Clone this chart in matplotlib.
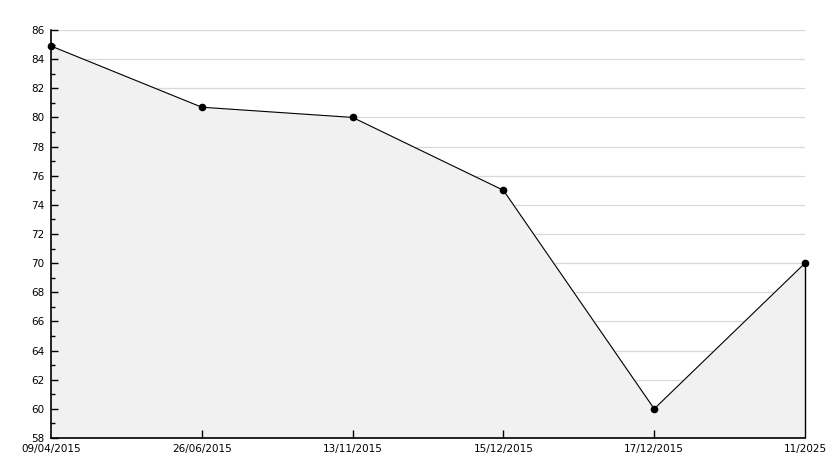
import matplotlib.pyplot as plt
from matplotlib.ticker import MultipleLocator

dates = ['09/04/2015', '26/06/2015', '13/11/2015', '15/12/2015', '17/12/2015', '11/2025']
values = [84.9, 80.7, 80.0, 75.0, 60.0, 70.0]

fig = plt.figure(figsize=(8.34, 4.68), dpi=100)
ax = fig.add_axes([51 / 834, 30 / 468, 754 / 834, 408 / 468])

xs = list(range(len(dates)))
ymin, ymax = 58, 86

# grid drawn by hand so the fill covers it
ax.hlines(range(ymin + 2, ymax + 1, 2), xs[0], xs[-1], color='#d8d8d8', lw=0.9, zorder=0.5)
ax.fill_between(xs, values, ymin, color='#f1f1f1', zorder=1)
ax.plot(xs, values, color='black', lw=0.8, marker='o', ms=4.5, zorder=4, clip_on=False)
ax.vlines(xs[-1], ymin, values[-1], color='black', lw=1, zorder=4, clip_on=False)

ax.set_xlim(0, len(dates) - 1)
ax.set_ylim(ymin, ymax)
ax.set_xticks(xs)
ax.set_xticklabels(dates)
ax.yaxis.set_major_locator(MultipleLocator(2))
ax.yaxis.set_minor_locator(MultipleLocator(1))
ax.set_axisbelow(False)

for s in ['top', 'right']:
	ax.spines[s].set_visible(False)
for s in ['left', 'bottom']:
	ax.spines[s].set_linewidth(1.2)

ax.tick_params(axis='y', which='major', direction='in', length=5, width=1, labelsize=7.5, pad=5)
ax.tick_params(axis='y', which='minor', direction='in', length=3, width=1)
ax.tick_params(axis='x', direction='in', length=6, width=1, labelsize=7.5, pad=4)
# first/last x ticks not drawn
ax.xaxis.get_major_ticks()[0].tick1line.set_visible(False)
ax.xaxis.get_major_ticks()[-1].tick1line.set_visible(False)

fig.savefig('out.png', dpi=100)
